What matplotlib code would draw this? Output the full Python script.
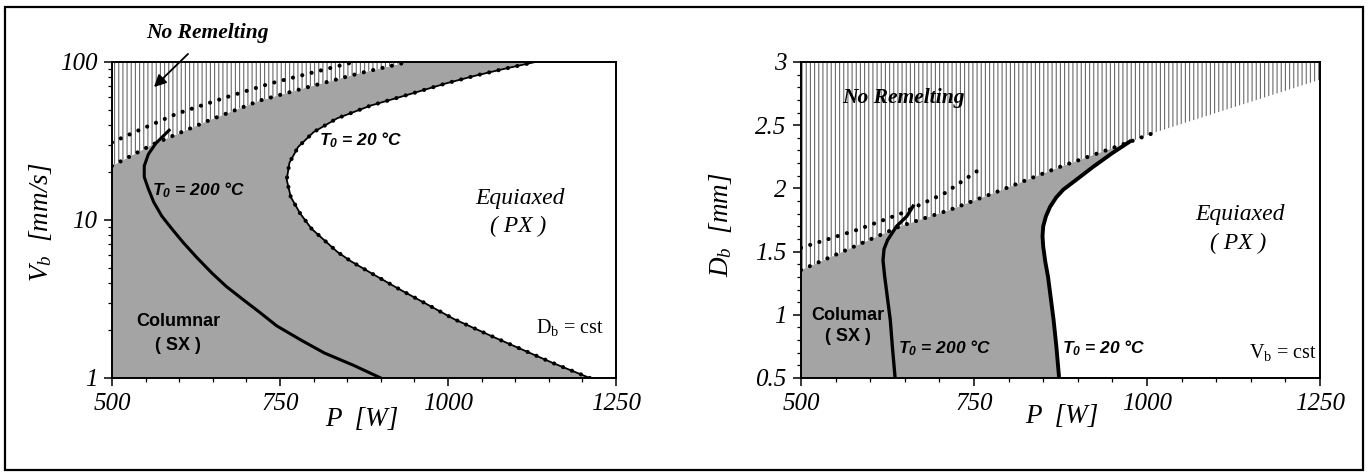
import numpy as np
import matplotlib
matplotlib.use("Agg")
import matplotlib.pyplot as plt
from matplotlib.ticker import MultipleLocator, LogLocator, NullFormatter, FixedLocator, FixedFormatter
from matplotlib.patches import Rectangle

plt.rcParams['mathtext.fontset'] = 'custom'
plt.rcParams['mathtext.rm'] = 'Liberation Serif'
plt.rcParams['mathtext.it'] = 'Liberation Serif:italic'
plt.rcParams['mathtext.bf'] = 'Liberation Sans:italic:bold'
plt.rcParams['hatch.linewidth'] = 0.8

# ---------------- data: left panel (D_b = cst) ----------------
L_T200_P = [900, 860, 816, 780, 745, 720, 694, 670, 649, 626, 606, 589, 574, 562, 554, 548, 548, 554, 565, 585]
L_T200_V = [1.0, 1.2, 1.44, 1.75, 2.14, 2.6, 3.16, 3.8, 4.6, 5.8, 7.2, 8.8, 10.6, 13, 15.8, 18.7, 22, 26, 30.5, 37]

L_T20_P = [1211, 1155, 1070, 1009, 968, 930, 890, 855, 835, 797, 780, 766, 760, 764,
           777, 800, 835, 885, 940, 996, 1041, 1086, 1130]
L_T20_V = [1.0, 1.25, 1.8, 2.36, 2.94, 3.6, 4.5, 5.5, 6.3, 8.8, 11, 14, 18, 23,
           29, 36, 44, 53, 62, 73, 82, 91, 100]

L_REM200_P = [500, 540, 596, 671, 735, 795, 860]
L_REM200_V = [31, 37, 47, 60, 73, 85, 100]

L_REM20_P = [500, 560, 646, 720, 795, 869, 940]
L_REM20_V = [22, 30, 43, 57, 70, 85, 100]

# ---------------- data: right panel (V_b = cst) ----------------
R_T200_P = [636, 632, 629, 625, 621, 618.5, 620, 625, 638, 653, 662]
R_T200_D = [0.5, 0.75, 0.96, 1.13, 1.30, 1.43, 1.52, 1.59, 1.70, 1.78, 1.86]

R_T20_P = [873, 869, 865, 861, 857, 853, 850, 849, 850, 854, 860, 869, 879, 903, 922, 950, 975]
R_T20_D = [0.5, 0.75, 0.96, 1.13, 1.30, 1.42, 1.54, 1.62, 1.70, 1.78, 1.855, 1.93, 1.99, 2.09, 2.17, 2.28, 2.37]

R_REM200_P = [500, 580, 644, 707, 758]
R_REM200_D = [1.53, 1.67, 1.80, 1.96, 2.15]

R_REM20_P = [500, 643, 715, 777, 874, 971, 1010, 1250]
R_REM20_D = [1.354, 1.70, 1.83, 1.96, 2.17, 2.36, 2.44, 2.86]

X_TICKS = [500, 750, 1000, 1250]
L_Y_TICKS = [1, 10, 100]
L_Y_LABELS = ['1', '10', '100']
R_Y_TICKS = [0.5, 1, 1.5, 2, 2.5, 3]
R_Y_LABELS = ['0.5', '1', '1.5', '2', '2.5', '3']

W, H = 1369, 473
fig = plt.figure(figsize=(W / 100, H / 100), dpi=100)

def fx(x):
    return x / W

def fy(y):
    return 1 - y / H

GRAY = '#a4a4a4'
HATCH_C = '#6a6a6a'
dot_style = dict(color='black', lw=3.0, linestyle=(0, (0.01, 2.3)), dash_capstyle='round')

def setup_axes(ax):
    for s in ax.spines.values():
        s.set_linewidth(1.4)
        s.set_zorder(10)
    ax.tick_params(which='major', direction='out', length=5.5, width=1.1, labelsize=18, pad=5)
    ax.tick_params(which='minor', direction='out', length=3.2, width=0.9)
    ax.xaxis.set_major_locator(FixedLocator(X_TICKS))
    ax.xaxis.set_minor_locator(MultipleLocator(50))

def style_labels(ax):
    for lab in ax.get_xticklabels() + ax.get_yticklabels():
        lab.set_fontfamily('Liberation Serif')
        lab.set_fontstyle('italic')

# ---------------- left panel ----------------
axL = fig.add_axes([fx(112), fy(378), fx(616) - fx(112), fy(62) - fy(378)])
axL.set_xlim(500, 1250)
axL.set_yscale('log')
axL.set_ylim(1, 100)

gP = np.concatenate([[500], L_T20_P, L_REM20_P[::-1], [500]])
gV = np.concatenate([[1], L_T20_V, L_REM20_V[::-1], [1]])
axL.fill(gP, gV, facecolor=GRAY, edgecolor='none', zorder=1)
hP = np.concatenate([L_REM20_P, [500]])
hV = np.concatenate([L_REM20_V, [100]])
axL.fill(hP, hV, facecolor='white', edgecolor=HATCH_C, hatch='||||', linewidth=0, zorder=1)

axL.plot(L_REM20_P, L_REM20_V, zorder=4, **dot_style)
axL.plot(L_REM200_P, L_REM200_V, zorder=4, **dot_style)
axL.plot(L_T200_P, L_T200_V, color='black', lw=2.2, zorder=5, solid_joinstyle='round')
axL.plot(L_T20_P, L_T20_V, color='black', lw=1.3, zorder=5)
axL.plot(L_T20_P, L_T20_V, zorder=5, **dot_style)

setup_axes(axL)
axL.yaxis.set_major_locator(FixedLocator(L_Y_TICKS))
axL.yaxis.set_major_formatter(FixedFormatter(L_Y_LABELS))
axL.yaxis.set_minor_locator(LogLocator(base=10, subs=np.arange(2, 10)))
axL.yaxis.set_minor_formatter(NullFormatter())
style_labels(axL)

# ---------------- right panel ----------------
axR = fig.add_axes([fx(801), fy(378), fx(1320) - fx(801), fy(62) - fy(378)])
axR.set_xlim(500, 1250)
axR.set_ylim(0.5, 3)

endP = R_T20_P[-1]
lowP = np.array(R_REM20_P)
lowD = np.array(R_REM20_D)
mask = lowP < endP
gP = np.concatenate([[500], R_T20_P, lowP[mask][::-1], [500]])
gD = np.concatenate([[0.5], R_T20_D, lowD[mask][::-1], [0.5]])
axR.fill(gP, gD, facecolor=GRAY, edgecolor='none', zorder=1)
hP = np.concatenate([R_REM20_P, [1250, 500]])
hD = np.concatenate([R_REM20_D, [3, 3]])
axR.fill(hP, hD, facecolor='white', edgecolor=HATCH_C, hatch='||||', linewidth=0, zorder=1)

axR.plot(R_REM20_P[:-1], R_REM20_D[:-1], zorder=4, **dot_style)
axR.plot(R_REM200_P, R_REM200_D, zorder=4, **dot_style)
axR.plot(R_T200_P, R_T200_D, color='black', lw=2.4, zorder=5, solid_joinstyle='round')
axR.plot(R_T20_P, R_T20_D, color='black', lw=2.8, zorder=5, solid_joinstyle='round')

setup_axes(axR)
axR.yaxis.set_major_locator(FixedLocator(R_Y_TICKS))
axR.yaxis.set_major_formatter(FixedFormatter(R_Y_LABELS))
axR.yaxis.set_minor_locator(MultipleLocator(0.1))
style_labels(axR)

# ---------------- texts ----------------
def T(x, y, s, **kw):
    fig.text(fx(x), fy(y), s, ha='center', va='center', **kw)

lab_kw = dict(family='Liberation Serif', style='italic', fontsize=19.5)
T(362, 420, 'P  [W]', **lab_kw)
T(1062, 416, 'P  [W]', **lab_kw)
T(40, 222, r'$V_b$  [mm/s]', rotation=90, **lab_kw)
T(721, 225, r'$D_b$  [mm]', rotation=90, **lab_kw)

sans_b = dict(family='Liberation Sans', weight='bold', style='italic', fontsize=12.5)
T(361, 140, r'$\mathbf{T_0}$ = 20 °C', **sans_b)
T(199, 190, r'$\mathbf{T_0}$ = 200 °C', **sans_b)
T(945, 348, r'$\mathbf{T_0}$ = 200 °C', **sans_b)
T(1104, 348, r'$\mathbf{T_0}$ = 20 °C', **sans_b)

col_kw = dict(family='Liberation Sans', weight='bold', fontsize=13)
T(178, 321, 'Columnar', **col_kw)
T(178, 346, '( SX )', **col_kw)
T(848, 315, 'Columar', **col_kw)
T(848, 336, '( SX )', **col_kw)

eq_kw = dict(family='Liberation Serif', style='italic', fontsize=17)
T(520, 198, 'Equiaxed', **eq_kw)
T(518, 226, '( PX )', **eq_kw)
T(1240, 214, 'Equiaxed', **eq_kw)
T(1238, 243, '( PX )', **eq_kw)

cst_kw = dict(family='Liberation Serif', fontsize=14.5)
T(570, 328, r'$\mathrm{D_b}$ = cst', **cst_kw)
T(1283, 352, r'$\mathrm{V_b}$ = cst', **cst_kw)

nr_kw = dict(family='Liberation Serif', style='italic', weight='bold', fontsize=15.5)
T(207, 33, 'No Remelting', **nr_kw)
T(903, 98, 'No Remelting', **nr_kw)

fig.add_artist(matplotlib.patches.FancyArrowPatch(
    (fx(190), fy(52)), (fx(152), fy(89)), transform=fig.transFigure,
    arrowstyle='-|>', mutation_scale=18, color='black', lw=1.3))

fig.add_artist(Rectangle((fx(5), fy(470)), fx(1363) - fx(5), fy(7) - fy(470),
                         transform=fig.transFigure, fill=False, edgecolor='black', lw=1.6))

fig.savefig('out.png', dpi=100)
